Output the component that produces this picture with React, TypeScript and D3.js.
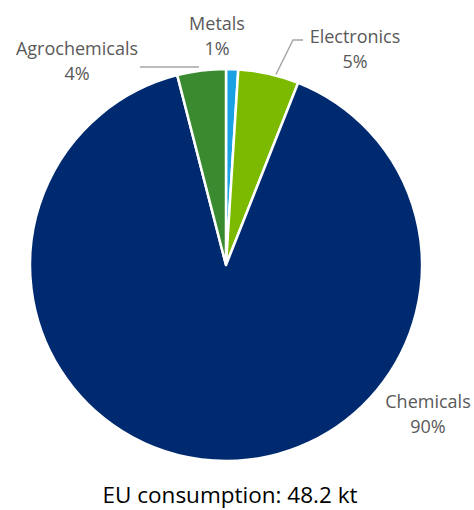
import React from "react";
import * as d3 from "d3";

const categories = ["Metals", "Electronics", "Chemicals", "Agrochemicals"];
const shares = [1, 5, 90, 4];
const colors = ["#1AA1E4", "#7CBA00", "#002A70", "#3A8A30"];
const caption = "EU consumption: 48.2 kt";

// label layout (text anchor points, not data)
const labelLayout: Record<string, { x: number; y: number }> = {
  Metals: { x: 217, y: 30 },
  Electronics: { x: 355, y: 43 },
  Chemicals: { x: 428, y: 408 },
  Agrochemicals: { x: 77, y: 55 },
};

const W = 474;
const H = 510;
const cx = 226;
const cy = 265;
const R = 196;

export default function App() {
  const data = categories.map((c, i) => ({ name: c, value: shares[i], color: colors[i] }));
  const pie = d3
    .pie<{ name: string; value: number; color: string }>()
    .value((d) => d.value)
    .sort(null)
    .startAngle(0)
    .endAngle(2 * Math.PI);
  const arcs = pie(data);
  const arc = d3.arc<any>().innerRadius(0).outerRadius(R);
  const font = "'Open Sans', 'DejaVu Sans', sans-serif";
  const total = d3.sum(shares);

  const pt = (a: number, r: number) => [Math.sin(a) * r, -Math.cos(a) * r];
  const elec = arcs[1];
  const agro = arcs[3];
  const eA = elec.startAngle + (elec.endAngle - elec.startAngle) * 0.62;
  const eP = pt(eA, R);
  const aA = agro.startAngle + (agro.endAngle - agro.startAngle) * 0.45;
  const aP = pt(aA, R);

  return (
    <svg
      width={W}
      height={H}
      style={{ position: "fixed", top: 0, left: 0, display: "block", background: "#fff" }}
    >
      <g transform={`translate(${cx},${cy})`}>
        {arcs.map((a, i) => (
          <path
            key={i}
            d={arc(a) as string}
            fill={a.data.color}
            stroke="#fff"
            strokeWidth={2.5}
            strokeLinejoin="round"
          />
        ))}
        <polyline
          points={`${eP[0]},${eP[1] - 1} ${293 - cx},${40 - cy} ${303 - cx},${40 - cy}`}
          fill="none"
          stroke="#A6A6A6"
          strokeWidth={1.5}
        />
        <polyline
          points={`${aP[0]},${-R - 2} ${140 - cx},${-R - 2}`}
          fill="none"
          stroke="#A6A6A6"
          strokeWidth={1.5}
        />
      </g>
      {arcs.map((a, i) => {
        const p = labelLayout[a.data.name];
        const pct = Math.round((a.data.value / total) * 100) + "%";
        return (
          <text
            key={i}
            x={p.x}
            y={p.y}
            textAnchor="middle"
            fontFamily={font}
            fontSize={18}
            fill="#595959"
          >
            <tspan x={p.x}>{a.data.name}</tspan>
            <tspan x={p.x} dy={25}>
              {pct}
            </tspan>
          </text>
        );
      })}
      <text
        x={230}
        y={503}
        textAnchor="middle"
        fontFamily={font}
        fontSize={22.5}
        fill="#000"
      >
        {caption}
      </text>
    </svg>
  );
}
